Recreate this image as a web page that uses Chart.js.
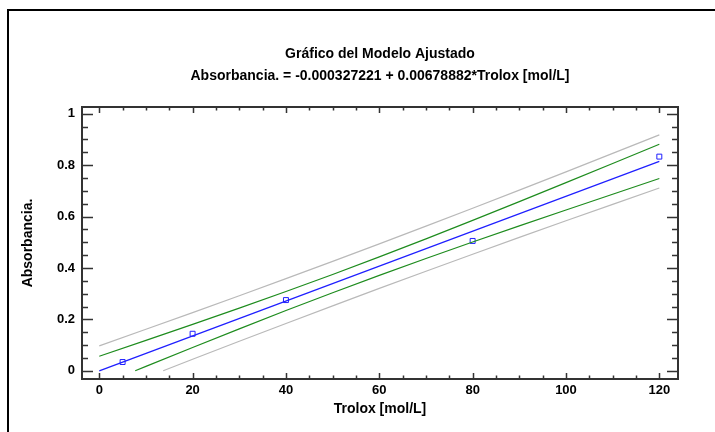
<!DOCTYPE html>
<html>
<head>
<meta charset="utf-8">
<script src="https://cdn.jsdelivr.net/npm/chart.js@4/dist/chart.umd.min.js"></script>
<style>
  html, body { margin: 0; padding: 0; background: #fff; overflow: hidden; }
  #wrap { width: 715px; height: 432px; }
</style>
</head>
<body>
<div id="wrap"><canvas id="fit" width="715" height="432"></canvas></div>
<script>
// observed points
const obsX = [5, 20, 40, 80, 120];
const obsY = [0.034, 0.144, 0.275, 0.505, 0.833];

// fitted line
const fitX = [0, 120];
const fitY = [-0.0003, 0.8143];

// confidence limits (green)
const bandX = [0, 10, 20, 30, 40, 50, 60, 70, 80, 90, 100, 110, 120];
const upperConf = [0.0567, 0.1182, 0.1805, 0.2436, 0.3082, 0.3745, 0.4428, 0.5130, 0.5848, 0.6578, 0.7317, 0.8060, 0.8809];
const lowerConfX = [7.7, 10, 20, 30, 40, 50, 60, 70, 80, 90, 100, 110, 120];
const lowerConf = [0, 0.0170, 0.0905, 0.1630, 0.2342, 0.3037, 0.3712, 0.4368, 0.5008, 0.5636, 0.6255, 0.6868, 0.7477];

// prediction limits (grey)
const upperPred = [0.0971, 0.1614, 0.2264, 0.2920, 0.3584, 0.4257, 0.4937, 0.5626, 0.6323, 0.7027, 0.7738, 0.8454, 0.9176];
const lowerPredX = [13.7, 20, 30, 40, 50, 60, 70, 80, 90, 100, 110, 120];
const lowerPred = [0, 0.0446, 0.1146, 0.1840, 0.2525, 0.3203, 0.3872, 0.4533, 0.5187, 0.5834, 0.6474, 0.7110];

// tick labels
const xTicks = [0, 20, 40, 60, 80, 100, 120];
const yTicks = [0, 0.2, 0.4, 0.6, 0.8, 1];
const yTickLabels = ["0", "0.2", "0.4", "0.6", "0.8", "1"];

const FONT = "'Liberation Sans', Arial, sans-serif";
const zip = (xs, ys) => xs.map((x, i) => ({ x, y: ys[i] }));

const lineSet = (xs, ys, color) => ({
  data: zip(xs, ys),
  showLine: true,
  borderColor: color,
  borderWidth: 1.2,
  pointRadius: 0,
  tension: 0,
  fill: false,
});

// outer frame, plot box and inward tick marks
const frameAndTicks = {
  id: "frameAndTicks",
  beforeDraw(chart) {
    const ctx = chart.ctx;
    ctx.save();
    ctx.fillStyle = "#000";
    ctx.fillRect(7, 9, chart.width, 2);
    ctx.fillRect(7, 9, 2, chart.height);
    ctx.restore();
  },
  afterDraw(chart) {
    const { ctx, chartArea: a, scales: { x, y } } = chart;
    ctx.save();
    ctx.strokeStyle = "#333";
    ctx.lineWidth = 2;
    ctx.strokeRect(a.left, a.top, a.right - a.left, a.bottom - a.top);
    ctx.lineWidth = 1.5;
    ctx.beginPath();
    for (let v = 0; v <= 120; v += 5) {
      const px = Math.round(x.getPixelForValue(v)) + 0.5;
      const len = v % 20 === 0 ? 6 : 3.5;
      ctx.moveTo(px, a.bottom);
      ctx.lineTo(px, a.bottom - len);
      ctx.moveTo(px, a.top);
      ctx.lineTo(px, a.top + len);
    }
    for (let i = 0; i <= 20; i++) {
      const py = Math.round(y.getPixelForValue(i * 0.05)) + 0.5;
      const len = i % 4 === 0 ? 11 : 6;
      ctx.moveTo(a.left, py);
      ctx.lineTo(a.left + len, py);
      ctx.moveTo(a.right, py);
      ctx.lineTo(a.right - len, py);
    }
    ctx.stroke();
    ctx.restore();
  },
};

new Chart(document.getElementById("fit"), {
  type: "scatter",
  data: {
    datasets: [
      lineSet(bandX, upperPred, "#b9b9b9"),
      lineSet(lowerPredX, lowerPred, "#b9b9b9"),
      lineSet(bandX, upperConf, "#1e8c1e"),
      lineSet(lowerConfX, lowerConf, "#1e8c1e"),
      lineSet(fitX, fitY, "#1f1fff"),
      {
        data: zip(obsX, obsY),
        showLine: false,
        pointStyle: "rect",
        pointRadius: 3.5,
        pointBorderWidth: 1,
        pointBorderColor: "#1f1fff",
        pointBackgroundColor: "rgba(0,0,0,0)",
      },
    ],
  },
  options: {
    responsive: false,
    animation: false,
    devicePixelRatio: 1,
    layout: { padding: { left: 0, right: 37, top: 0, bottom: 0 } },
    plugins: {
      legend: { display: false },
      tooltip: { enabled: false },
      title: {
        display: true,
        fullSize: false,
        text: "Gráfico del Modelo Ajustado",
        color: "#000",
        font: { family: FONT, size: 14, weight: "bold" },
        padding: { top: 45.6, bottom: 0 },
      },
      subtitle: {
        display: true,
        fullSize: false,
        text: "Absorbancia. = -0.000327221 + 0.00678882*Trolox [mol/L]",
        color: "#000",
        font: { family: FONT, size: 14, weight: "bold" },
        padding: { top: 5.2, bottom: 22.6 },
      },
    },
    scales: {
      x: {
        type: "linear",
        min: -3.7,
        max: 124,
        grid: { display: false, drawTicks: false },
        border: { display: false },
        afterBuildTicks: (s) => { s.ticks = xTicks.map((v) => ({ value: v })); },
        afterFit: (s) => { s.height = 53; },
        ticks: {
          padding: 4,
          color: "#000",
          font: { family: FONT, size: 13, weight: "bold" },
          maxRotation: 0,
          callback: (v) => String(v),
        },
        title: {
          display: true,
          text: "Trolox [mol/L]",
          color: "#000",
          font: { family: FONT, size: 14, weight: "bold" },
          padding: { top: 0, bottom: 14 },
        },
      },
      y: {
        type: "linear",
        min: -0.032,
        max: 1.026,
        grid: { display: false, drawTicks: false },
        border: { display: false },
        afterBuildTicks: (s) => { s.ticks = yTicks.map((v) => ({ value: v })); },
        afterFit: (s) => { s.width = 82; },
        ticks: {
          padding: 7,
          color: "#000",
          font: { family: FONT, size: 13, weight: "bold" },
          callback: (v) => yTickLabels[yTicks.indexOf(v)] ?? "",
        },
        title: {
          display: true,
          text: "Absorbancia.",
          color: "#000",
          font: { family: FONT, size: 14, weight: "bold" },
          padding: { top: 20, bottom: 0 },
        },
      },
    },
  },
  plugins: [frameAndTicks],
});
</script>
</body>
</html>
